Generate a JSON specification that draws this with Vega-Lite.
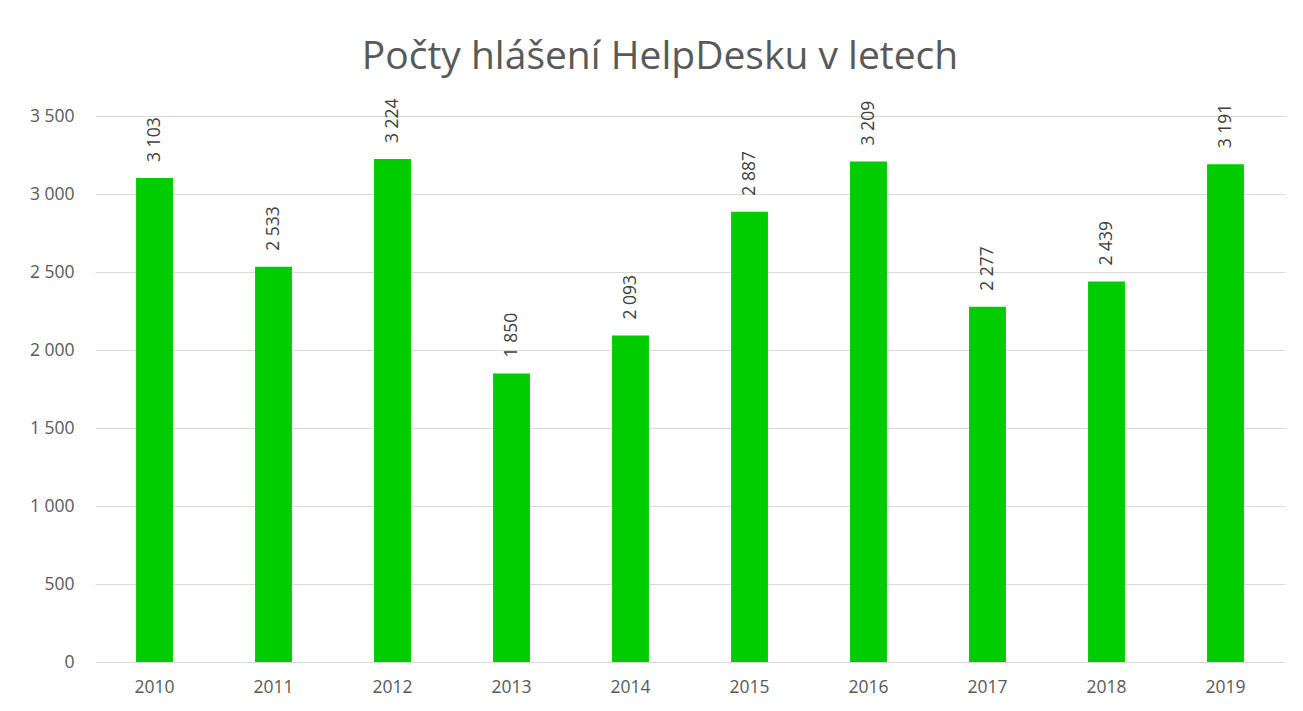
{
  "$schema": "https://vega.github.io/schema/vega-lite/v6.json",
  "width": 1190,
  "height": 546,
  "autosize": {"type": "none"},
  "padding": {"left": 95, "top": 116, "right": 18, "bottom": 49},
  "background": "white",
  "config": {
    "view": {"stroke": null},
    "font": "Open Sans",
    "locale": {"number": {"decimal": ",", "thousands": " ", "grouping": [3], "currency": ["", " Kč"]}}
  },
  "title": {
    "text": "Počty hlášení HelpDesku v letech",
    "font": "Open Sans",
    "fontSize": 39,
    "fontWeight": "normal",
    "color": "#595959",
    "anchor": "middle",
    "dx": -30,
    "offset": 21
  },
  "data": {
    "values": [
      {"rok": "2010", "pocet": 3103},
      {"rok": "2011", "pocet": 2533},
      {"rok": "2012", "pocet": 3224},
      {"rok": "2013", "pocet": 1850},
      {"rok": "2014", "pocet": 2093},
      {"rok": "2015", "pocet": 2887},
      {"rok": "2016", "pocet": 3209},
      {"rok": "2017", "pocet": 2277},
      {"rok": "2018", "pocet": 2439},
      {"rok": "2019", "pocet": 3191}
    ]
  },
  "encoding": {
    "x": {
      "field": "rok",
      "type": "ordinal",
      "scale": {"paddingInner": 0.69, "paddingOuter": 0.345},
      "axis": {
        "title": null,
        "labelAngle": 0,
        "domain": false,
        "ticks": false,
        "labelFontSize": 17.5,
        "labelColor": "#595959",
        "labelPadding": 16,
        "labelFont": "Open Sans"
      }
    },
    "y": {
      "field": "pocet",
      "type": "quantitative",
      "scale": {"domain": [0, 3500], "nice": false},
      "axis": {
        "title": null,
        "values": [0, 500, 1000, 1500, 2000, 2500, 3000, 3500],
        "format": ",.0f",
        "domain": false,
        "ticks": false,
        "grid": true,
        "gridColor": "#d9d9d9",
        "gridWidth": 1,
        "labelFontSize": 17.5,
        "labelColor": "#595959",
        "labelPadding": 21,
        "labelFont": "Open Sans"
      }
    }
  },
  "layer": [
    {"mark": {"type": "bar", "color": "#00cc00"}},
    {
      "mark": {
        "type": "text",
        "angle": 270,
        "align": "left",
        "baseline": "middle",
        "dx": 16,
        "fontSize": 17.5,
        "color": "#404040",
        "font": "Open Sans"
      },
      "encoding": {"text": {"field": "pocet", "type": "quantitative", "format": ",.0f"}}
    }
  ]
}
